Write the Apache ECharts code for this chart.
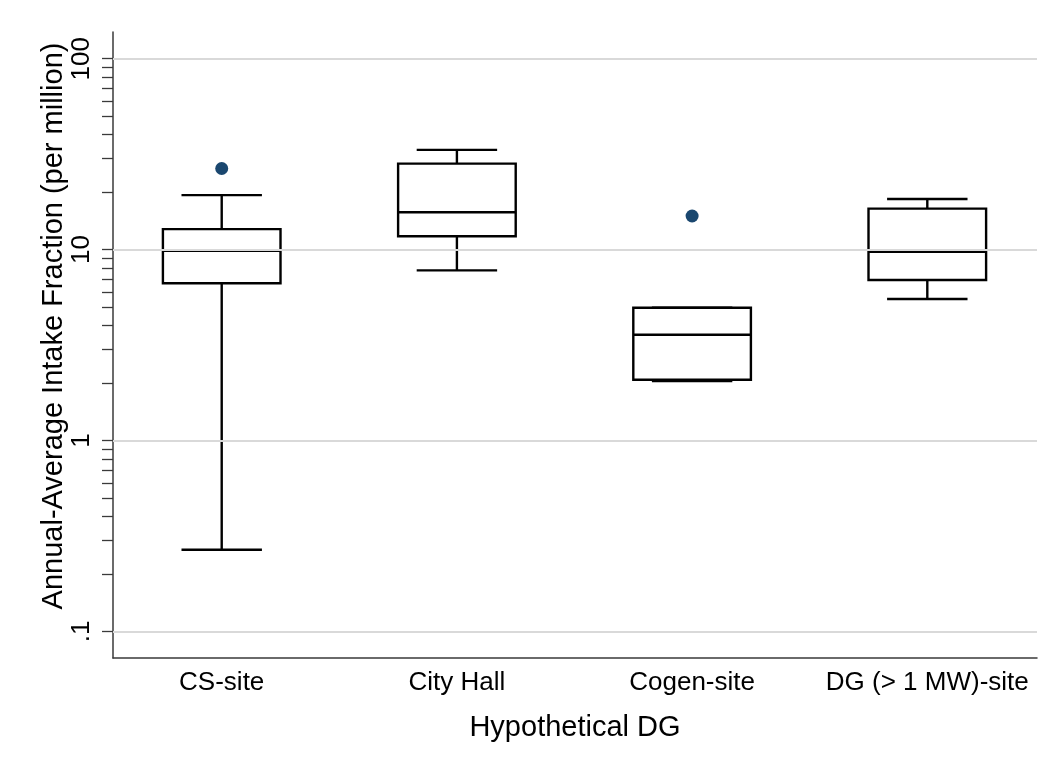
<!DOCTYPE html>
<html>
<head>
<meta charset="utf-8">
<title>Annual-Average Intake Fraction by Hypothetical DG</title>
<script src="https://cdn.jsdelivr.net/npm/echarts@6/dist/echarts.min.js"></script>
<style>
  html, body { margin: 0; padding: 0; background: #ffffff; }
  #chart { width: 1052px; height: 769px; }
</style>
</head>
<body>
<div id="chart"></div>
<script>
// Sites on the horizontal axis
var categories = ['CS-site', 'City Hall', 'Cogen-site', 'DG (> 1 MW)-site'];

// Box statistics per site (per million)
var whiskerLow  = [0.268, 7.79, 2.05, 5.51];
var quartile1   = [6.66, 11.75, 2.08, 6.93];
var medians     = [9.87, 15.7, 3.58, 9.75];
var quartile3   = [12.8, 28.2, 4.96, 16.4];
var whiskerHigh = [19.3, 33.3, 4.96, 18.4];

// Outside values: [site index, value]
var outliers = [[0, 26.6], [2, 15.0]];

// Log-axis ticks and labelled ticks
var majorTicks = [0.1, 1, 10, 100];
var allTicks = [0.1, 0.2, 0.3, 0.4, 0.5, 0.6, 0.7, 0.8, 0.9,
                1, 2, 3, 4, 5, 6, 7, 8, 9,
                10, 20, 30, 40, 50, 60, 70, 80, 90, 100];

var FONT = "'Liberation Sans', Arial, Helvetica, sans-serif";

var boxData = categories.map(function (c, i) {
  return [i, whiskerLow[i], quartile1[i], medians[i], quartile3[i], whiskerHigh[i]];
});

function renderBox(params, api) {
  var x = api.value(0);
  var lo = api.value(1), q1 = api.value(2), md = api.value(3), q3 = api.value(4), hi = api.value(5);
  var half = 0.25, capHalf = 0.171;
  var pQ3L = api.coord([x - half, q3]);
  var pQ1R = api.coord([x + half, q1]);
  var pMdL = api.coord([x - half, md]);
  var pMdR = api.coord([x + half, md]);
  var cx = api.coord([x, md])[0];
  var yLo = api.coord([x, lo])[1], yHi = api.coord([x, hi])[1];
  var yQ1 = pQ1R[1], yQ3 = pQ3L[1];
  var capL = api.coord([x - capHalf, lo])[0], capR = api.coord([x + capHalf, lo])[0];
  var stroke = { stroke: '#000000', lineWidth: 2.4, fill: null };
  return {
    type: 'group',
    children: [
      { type: 'line', shape: { x1: cx, y1: yQ3, x2: cx, y2: yHi }, style: stroke },
      { type: 'line', shape: { x1: cx, y1: yQ1, x2: cx, y2: yLo }, style: stroke },
      { type: 'line', shape: { x1: capL, y1: yHi, x2: capR, y2: yHi }, style: stroke },
      { type: 'line', shape: { x1: capL, y1: yLo, x2: capR, y2: yLo }, style: stroke },
      { type: 'rect',
        shape: { x: pQ3L[0], y: yQ3, width: pQ1R[0] - pQ3L[0], height: yQ1 - yQ3 },
        style: { fill: '#ffffff', stroke: '#000000', lineWidth: 2.4 } },
      { type: 'line', shape: { x1: pMdL[0], y1: pMdL[1], x2: pMdR[0], y2: pMdR[1] }, style: stroke }
    ]
  };
}

var chart = echarts.init(document.getElementById('chart'), null, { renderer: 'canvas' });

chart.setOption({
  backgroundColor: '#ffffff',
  animation: false,
  grid: { left: 113, right: 15, top: 32, bottom: 111, containLabel: false },
  xAxis: {
    type: 'value',
    min: -0.4622,
    max: 3.4664,
    name: 'Hypothetical DG',
    nameLocation: 'middle',
    nameGap: 55,
    nameMoveOverlap: false,
    nameTextStyle: { fontFamily: FONT, fontSize: 29, color: '#000000' },
    axisLine: { show: true, onZero: false, lineStyle: { color: '#3a3a3a', width: 1.5 } },
    axisTick: { show: false },
    splitLine: { show: false },
    axisLabel: {
      customValues: [0, 1, 2, 3],
      formatter: function (v) { return categories[Math.round(v)]; },
      fontFamily: FONT, fontSize: 26, color: '#000000', margin: 12
    }
  },
  yAxis: {
    type: 'log',
    logBase: 10,
    min: 0.0726,
    max: 138,
    name: 'Annual-Average Intake Fraction (per million)',
    nameLocation: 'middle',
    nameRotate: 90,
    nameGap: 45,
    nameMoveOverlap: false,
    nameTextStyle: { fontFamily: FONT, fontSize: 29, color: '#000000', padding: [0, 0, 0, 38] },
    axisLine: { show: true, onZero: false, lineStyle: { color: '#3a3a3a', width: 1.5 } },
    axisTick: {
      show: true, inside: false, length: 11,
      customValues: allTicks,
      lineStyle: { color: '#3a3a3a', width: 1.3 }
    },
    minorTick: { show: false },
    splitLine: { show: false },
    axisLabel: {
      customValues: majorTicks,
      rotate: 90,
      margin: 18,
      fontFamily: FONT, fontSize: 26, color: '#000000',
      formatter: function (v) { return v < 0.5 ? '.1' : String(Math.round(v)); }
    }
  },
  series: [
    {
      // horizontal reference lines at the labelled decades
      type: 'scatter',
      data: [],
      z: 1,
      silent: true,
      markLine: {
        silent: true,
        symbol: ['none', 'none'],
        label: { show: false },
        lineStyle: { color: '#d9d9d9', width: 2, type: 'solid' },
        emphasis: { disabled: true },
        data: majorTicks.map(function (v) { return { yAxis: v }; })
      }
    },
    {
      type: 'custom',
      z: 3,
      silent: true,
      renderItem: renderBox,
      encode: { x: 0, y: [1, 2, 3, 4, 5] },
      data: boxData
    },
    {
      type: 'scatter',
      z: 4,
      silent: true,
      symbol: 'circle',
      symbolSize: 13,
      itemStyle: { color: '#1a476f', opacity: 1 },
      data: outliers
    }
  ]
});
</script>
</body>
</html>
